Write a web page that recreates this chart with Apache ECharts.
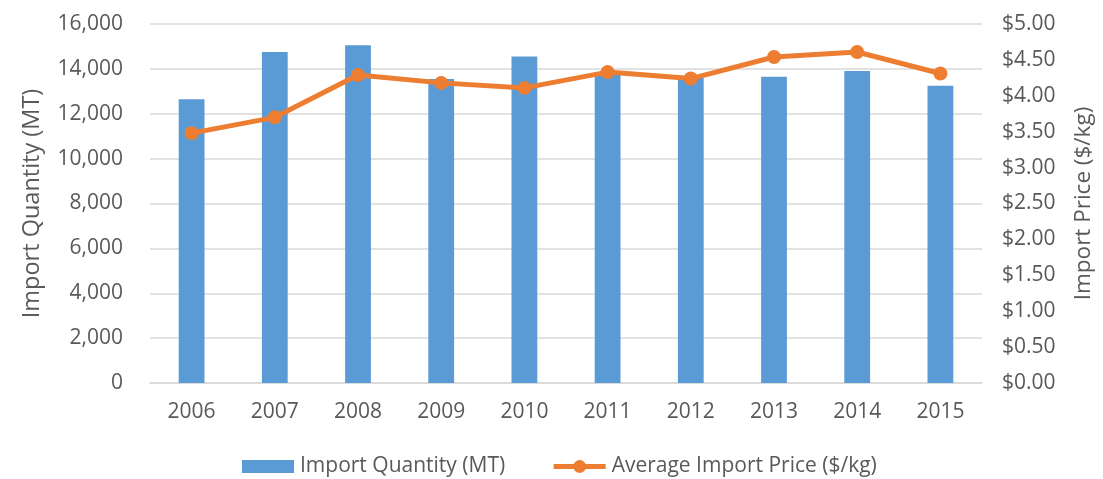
<!DOCTYPE html>
<html>
<head>
<meta charset="utf-8">
<script src="https://cdn.jsdelivr.net/npm/echarts@6.0.0/dist/echarts.min.js"></script>
<style>
  html, body { margin: 0; padding: 0; background: #fff; }
  #chart { width: 1103px; height: 479px; }
</style>
</head>
<body>
<div id="chart"></div>
<script>
const years = ["2006", "2007", "2008", "2009", "2010", "2011", "2012", "2013", "2014", "2015"];
const importQuantity = [12650, 14750, 15050, 13550, 14550, 13800, 13600, 13650, 13900, 13250];
const avgImportPrice = [3.48, 3.70, 4.29, 4.18, 4.11, 4.33, 4.24, 4.54, 4.61, 4.31];

const textColor = "#595959";
const fontFamily = "'Open Sans', 'Noto Sans', sans-serif";

const chart = echarts.init(document.getElementById("chart"));
chart.setOption({
  animation: false,
  textStyle: { fontFamily: fontFamily, color: textColor },
  grid: { left: 150, right: 119, top: 24, bottom: 96 },
  legend: {
    top: 451,
    left: 237,
    itemWidth: 52,
    itemHeight: 16,
    itemGap: 46,
    symbolKeepAspect: true,
    textStyle: { fontSize: 21, color: textColor, fontFamily: fontFamily, padding: [0, 0, 0, 1] },
    data: [
      { name: "Import Quantity (MT)", icon: "path://M0 0H52V13H0Z" },
      { name: "Average Import Price ($/kg)", lineStyle: { width: 5 } }
    ]
  },
  xAxis: {
    type: "category",
    data: years,
    axisTick: { show: false },
    axisLine: { lineStyle: { color: "#d9d9d9", width: 1.5 } },
    axisLabel: { color: textColor, fontSize: 21, margin: 19 }
  },
  yAxis: [
    {
      type: "value",
      min: 0,
      max: 16000,
      interval: 2000,
      name: "Import Quantity (MT)",
      nameLocation: "middle",
      nameGap: 106,
      nameTextStyle: { fontSize: 23.5, color: textColor },
      axisLabel: {
        color: textColor,
        fontSize: 21,
        margin: 27,
        formatter: (v) => v.toLocaleString("en-US")
      },
      splitLine: { lineStyle: { color: "#d9d9d9", width: 1.5 } }
    },
    {
      type: "value",
      min: 0,
      max: 5,
      interval: 0.5,
      name: "Import Price ($/kg)",
      nameLocation: "middle",
      nameGap: 90,
      nameRotate: 90,
      nameTextStyle: { fontSize: 22.5, color: textColor },
      axisLabel: {
        color: textColor,
        fontSize: 21,
        margin: 20,
        formatter: (v) => "$" + v.toFixed(2)
      },
      splitLine: { show: false }
    }
  ],
  series: [
    {
      name: "Import Quantity (MT)",
      type: "bar",
      data: importQuantity,
      barWidth: "31%",
      itemStyle: { color: "#5b9bd5" }
    },
    {
      name: "Average Import Price ($/kg)",
      type: "line",
      yAxisIndex: 1,
      data: avgImportPrice,
      symbol: "circle",
      symbolSize: 14,
      lineStyle: { color: "#ed7d31", width: 5 },
      itemStyle: { color: "#ed7d31" }
    }
  ]
});
</script>
</body>
</html>
